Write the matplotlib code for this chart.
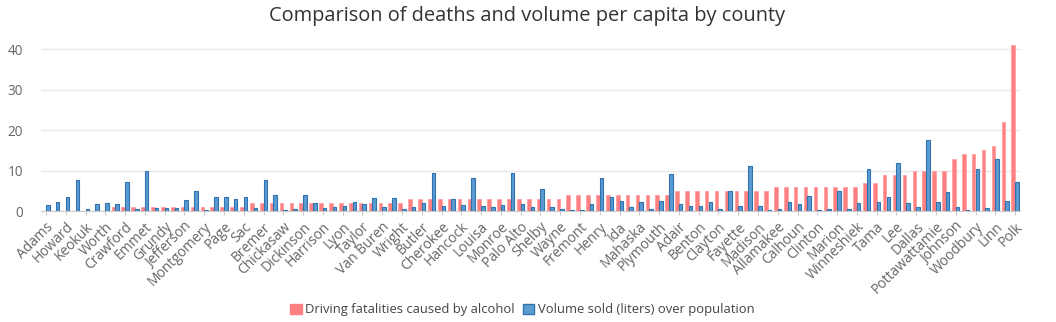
import matplotlib
matplotlib.use("Agg")
import matplotlib.pyplot as plt
from matplotlib.patches import Patch
import numpy as np

plt.rcParams["font.family"] = ["Open Sans", "DejaVu Sans"]

# etiquetas visibles (una de cada dos categorias, 99 condados en total)
tick_labels = [
    "Adams", "Howard", "Keokuk", "Worth", "Crawford", "Emmet", "Grundy",
    "Jefferson", "Montgomery", "Page", "Sac", "Bremer", "Chickasaw",
    "Dickinson", "Harrison", "Lyon", "Taylor", "Van Buren", "Wright",
    "Butler", "Cherokee", "Hancock", "Louisa", "Monroe", "Palo Alto",
    "Shelby", "Wayne", "Fremont", "Henry", "Ida", "Mahaska", "Plymouth",
    "Adair", "Benton", "Clayton", "Fayette", "Madison", "Allamakee",
    "Calhoun", "Clinton", "Marion", "Winneshiek", "Tama", "Lee", "Dallas",
    "Pottawattamie", "Johnson", "Woodbury", "Linn", "Polk",
]

fatalities = [
    0, 0, 0, 0, 0, 0, 0, 1, 1, 1,
    1, 1, 1, 1, 1, 1, 1, 1, 1, 1,
    1, 2, 2, 2, 2, 2, 2, 2, 2, 2,
    2, 2, 2, 2, 2, 2, 2, 3, 3, 3,
    3, 3, 3, 3, 3, 3, 3, 3, 3, 3,
    3, 3, 3, 4, 4, 4, 4, 4, 4, 4,
    4, 4, 4, 4, 5, 5, 5, 5, 5, 5,
    5, 5, 5, 5, 6, 6, 6, 6, 6, 6,
    6, 6, 6, 7, 7, 9, 9, 9, 10, 10,
    10, 10, 13, 14, 14, 15, 16, 22, 41,
]

volume = [
    1.6, 2.2, 3.5, 7.7, 0.55, 1.85, 2.1, 1.85, 7.1, 0.65,
    10.0, 0.7, 0.9, 0.9, 2.65, 5.0, 0.4, 3.6, 3.4, 3.0,
    3.5, 0.9, 7.7, 3.95, 0.4, 0.55, 3.9, 2.0, 0.7, 1.05,
    1.4, 2.2, 1.85, 3.15, 1.0, 3.2, 0.55, 1.0, 2.0, 9.4,
    1.2, 3.0, 1.6, 8.1, 1.4, 1.05, 1.6, 9.4, 1.85, 1.05,
    5.4, 1.05, 0.55, 0.3, 0.3, 1.85, 8.3, 3.5, 2.4, 1.05,
    2.2, 0.55, 2.45, 9.3, 1.85, 1.4, 1.35, 2.3, 0.65, 5.0,
    1.35, 11.1, 1.35, 0.3, 0.5, 2.2, 1.9, 3.75, 0.3, 0.6,
    5.0, 0.5, 2.0, 10.5, 2.25, 3.6, 11.9, 2.0, 1.0, 17.5,
    2.2, 4.65, 1.0, 0.2, 10.4, 0.9, 13.0, 2.4, 7.25,
]

red = "#ff8080"
blue = "#5b9bd0"
blue_edge = "#2f74b0"

fig = plt.figure(figsize=(10.56, 3.22), dpi=100)
ax = fig.add_axes([41.0 / 1056, 1 - 211.2 / 322, 979.0 / 1056, 166.9 / 322])

x = np.arange(len(fatalities))
ax.bar(x - 0.18, fatalities, width=0.36, color=red, edgecolor="#ffa0a0",
       linewidth=0.6, zorder=3)
ax.bar(x + 0.18, volume, width=0.36, color=blue, edgecolor=blue_edge,
       linewidth=0.8, zorder=3)

ax.set_xlim(-0.5, len(fatalities) - 0.5)
ax.set_ylim(0, 41.2)
ax.set_yticks([0, 10, 20, 30, 40])
ax.set_xticks(x[::2])
ax.set_xticklabels(tick_labels, rotation=45, ha="right", rotation_mode="anchor",
                   fontsize=10, color="#666666")
ax.tick_params(axis="y", length=0, pad=13, labelsize=9.8, labelcolor="#666666")
ax.tick_params(axis="x", length=3, color="#cccccc", pad=3)
ax.grid(axis="y", color="#e8e8e8", linewidth=1, zorder=0)
for s in ["top", "right", "left"]:
    ax.spines[s].set_visible(False)
ax.spines["bottom"].set_color("#cccccc")

fig.text(0.4995, 1 - 16 / 322, "Comparison of deaths and volume per capita by county",
         ha="center", va="center", fontsize=14.4, color="#333333")

handles = [
    Patch(facecolor=red, edgecolor=red, label="Driving fatalities caused by alcohol"),
    Patch(facecolor=blue, edgecolor=blue_edge, label="Volume sold (liters) over population"),
]
fig.legend(handles=handles, loc="center", bbox_to_anchor=(0.4948, 1 - 310 / 322),
           ncol=2, frameon=False, fontsize=9.4, labelcolor="#444444",
           handlelength=0.85, handleheight=0.85, handletextpad=0.3,
           columnspacing=0.6)

fig.savefig("out.png", dpi=100)
